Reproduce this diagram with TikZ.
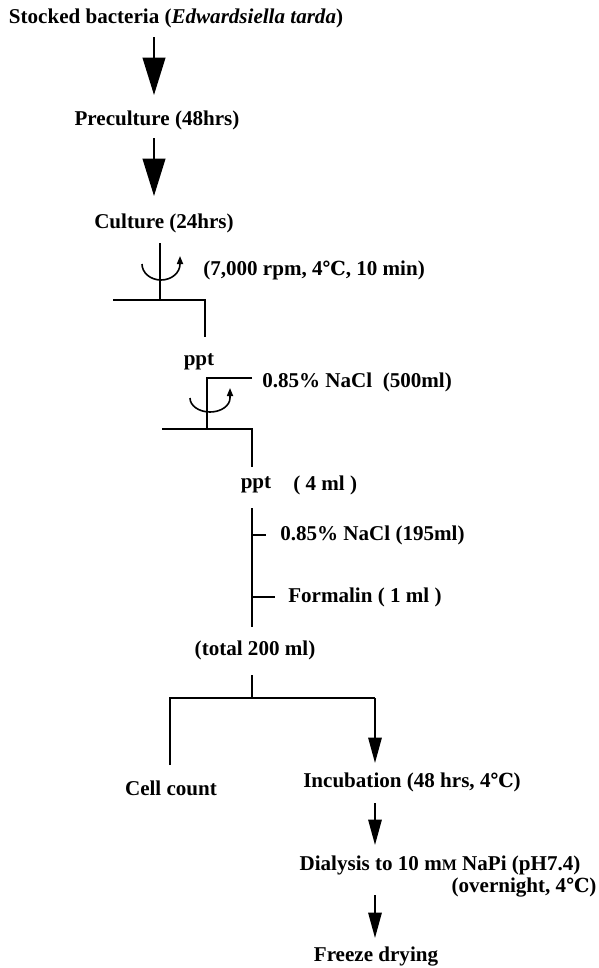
\documentclass[tikz,border=0pt]{standalone}
\usepackage{fontspec}
\setmainfont{Liberation Serif}
\newfontfamily\symfont{DejaVu Serif}
\usetikzlibrary{arrows.meta}
\newcommand{\degC}{{\symfont\fontsize{14.5}{16}\selectfont ℃}}
\newcommand{\smallM}{{\fontsize{12}{14}\selectfont M}}
\begin{document}
\begin{tikzpicture}[x=0.75pt,y=-0.75pt,
  lbl/.style={inner sep=0pt, font=\bfseries\fontsize{15.8}{18}\selectfont},
  ln/.style={line width=1.4pt},
  bigarr/.style={ln, -{Triangle[length=28pt,width=17pt]}},
  smallarr/.style={ln, -{Triangle[length=19pt,width=10pt]}},
  rotarr/.style={line width=1.2pt, -{Triangle[length=6pt,width=4.5pt]}}]
\useasboundingbox (0,0) rectangle (599,968);
% labels
\node[lbl] (stock) at (176,18) {Stocked bacteria (\textit{Edwardsiella tarda})};
\node[lbl] (pre) at (157,120) {Preculture (48hrs)};
\node[lbl] (cult) at (164,223) {Culture (24hrs)};
\node[lbl,anchor=west] (rpm) at (203,270) {(7,000 rpm, 4\degC, 10 min)};
\node[lbl] (ppt1) at (199,362) {ppt};
\node[lbl,anchor=west] (nacl1) at (262,382) {0.85\% NaCl\ \ (500ml)};
\node[lbl] (ppt2) at (256,485) {ppt};
\node[lbl,anchor=west] (vol) at (293,485) {( 4 ml )};
\node[lbl,anchor=west] (nacl2) at (280,535) {0.85\% NaCl (195ml)};
\node[lbl,anchor=west] (form) at (288,597) {Formalin ( 1 ml )};
\node[lbl] (total) at (255,650) {(total 200 ml)};
\node[lbl] (cell) at (171,788) {Cell count};
\node[lbl] (incub) at (412,782) {Incubation (48 hrs, 4\degC)};
\node[lbl] (dial) at (440,865) {Dialysis to 10 m\smallM\ NaPi (pH7.4)};
\node[lbl] (over) at (524,888) {(overnight, 4\degC)};
\node[lbl] (freeze) at (376,957) {Freeze drying};
% top arrows
\coordinate (a1s) at (154,37); \coordinate (a1e) at (154,95);
\coordinate (a2s) at (154,138); \coordinate (a2e) at (154,196);
\draw[bigarr] (a1s) -- (a1e);
\draw[bigarr] (a2s) -- (a2e);
% centrifuge 1
\coordinate (c1top) at (160,243); \coordinate (c1mid) at (160,300);
\coordinate (c1l) at (113,300); \coordinate (c1r) at (205,300); \coordinate (c1bot) at (205,337);
\draw[ln] (c1top) -- (c1mid);
\draw[ln] (c1l) -- (c1r) -- (c1bot);
\draw[rotarr] (142,264) arc[start angle=180,end angle=0,x radius=19,y radius=16] -- (180,256);
% centrifuge 2
\coordinate (c2top) at (207,378); \coordinate (c2add) at (252,378);
\coordinate (c2mid) at (207,429); \coordinate (c2l) at (162,429); \coordinate (c2r) at (252,429); \coordinate (c2bot) at (252,467);
\draw[ln] (c2add) -- (c2top) -- (c2mid);
\draw[ln] (c2l) -- (c2r) -- (c2bot);
\draw[rotarr] (190,398) arc[start angle=180,end angle=0,x radius=20,y radius=14] -- (230,388);
% mixing
\coordinate (m1) at (252,508); \coordinate (m2) at (252,627);
\coordinate (b1) at (252,535); \coordinate (b1e) at (266,535);
\coordinate (b2) at (252,597); \coordinate (b2e) at (275,597);
\draw[ln] (m1) -- (m2);
\draw[ln] (b1) -- (b1e);
\draw[ln] (b2) -- (b2e);
% split
\coordinate (s1) at (252,675); \coordinate (s2) at (252,698);
\coordinate (sl) at (170,698); \coordinate (sr) at (375,698);
\coordinate (sle) at (170,765); \coordinate (sre) at (375,763);
\draw[ln] (s1) -- (s2);
\draw[ln] (sle) -- (sl) -- (sr);
\draw[smallarr] (sr) -- (sre);
% lower arrows
\coordinate (d1s) at (375,803); \coordinate (d1e) at (375,845);
\coordinate (d2s) at (375,895); \coordinate (d2e) at (375,938);
\draw[smallarr] (d1s) -- (d1e);
\draw[smallarr] (d2s) -- (d2e);
\end{tikzpicture}
\end{document}
